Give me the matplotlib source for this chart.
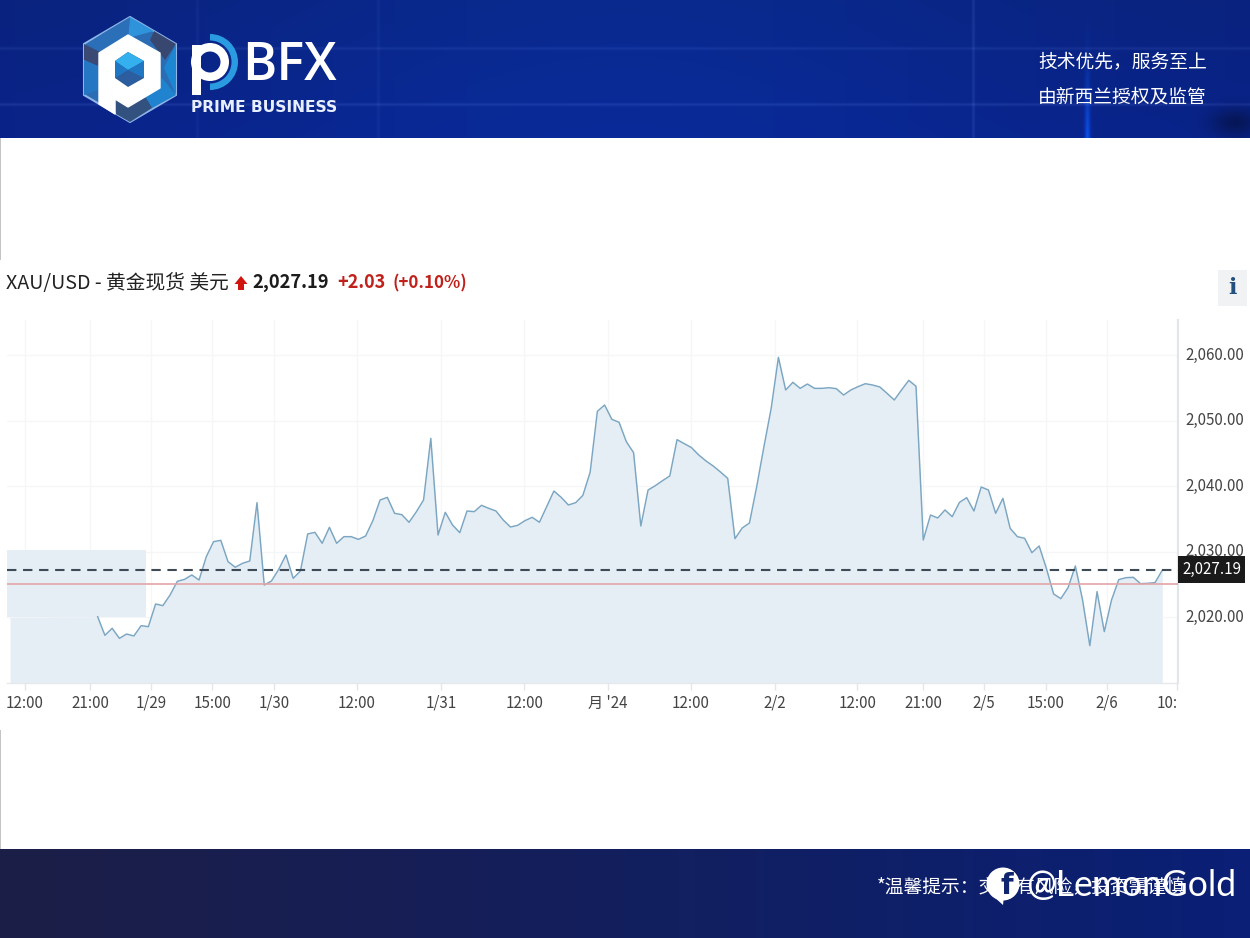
import numpy as np
import matplotlib
matplotlib.use("Agg")
import matplotlib.pyplot as plt
from matplotlib.patches import Polygon, Rectangle, Circle, Wedge
from matplotlib.transforms import ScaledTranslation

plt.rcParams['font.family'] = ['Noto Sans CJK SC', 'DejaVu Sans']

# Hourly XAU/USD spot quotes
prices = [
    2020.1, 2017.27, 2018.34, 2016.81, 2017.47, 2017.17, 2018.74, 2018.59, 2022.05, 2021.79,
    2023.42, 2025.5, 2025.8, 2026.47, 2025.7, 2029.26, 2031.55, 2031.75, 2028.5, 2027.64,
    2028.25, 2028.6, 2037.5, 2024.94, 2025.55, 2027.33, 2029.52, 2025.96, 2027.08, 2032.72,
    2032.97, 2031.3, 2033.73, 2031.3, 2032.31, 2032.31, 2031.9, 2032.41, 2034.75, 2037.9,
    2038.3, 2035.87, 2035.66, 2034.5, 2036.1,
    2037.9, 2047.3, 2032.56, 2036.02, 2034.09, 2032.92, 2036.22, 2036.12, 2037.09, 2036.63,
    2036.22, 2034.85, 2033.78, 2034.04, 2034.75, 2035.26, 2034.5, 2036.88, 2039.27, 2038.31,
    2037.14, 2037.49, 2038.61, 2042.12, 2051.42, 2052.38, 2050.2, 2049.74, 2046.79, 2045.12,
    2033.94, 2039.42, 2040.08, 2040.85, 2041.56, 2047.1, 2046.49, 2045.88, 2044.76, 2043.85,
    2043.08, 2042.17, 2041.2, 2032.0, 2033.63, 2034.39, 2039.93, 2046.03, 2051.87, 2059.65,
    2054.67, 2055.84, 2054.92, 2055.58, 2054.92, 2054.92,
    2055.02, 2054.87, 2053.9, 2054.67, 2055.18, 2055.63, 2055.43, 2055.13, 2054.16, 2053.14,
    2054.67, 2056.14, 2055.23, 2031.8, 2035.61, 2035.16, 2036.38, 2035.36, 2037.54, 2038.25,
    2036.22, 2039.88, 2039.42, 2035.87, 2038.15, 2033.58, 2032.31, 2032.06, 2029.87, 2030.89,
    2027.48, 2023.57, 2022.86, 2024.54, 2027.84, 2022.66, 2015.69, 2023.93, 2017.83, 2022.66,
    2025.76, 2026.06, 2026.11, 2025.15, 2025.2, 2025.3, 2027.19,
]
last_price = 2027.19
prev_close = 2025.16
price_ticks = [2020, 2030, 2040, 2050, 2060]
price_labels = ["2,020.00", "2,030.00", "2,040.00", "2,050.00", "2,060.00"]
time_ticks = [-10.03, -1.06, 7.36, 15.8, 24.35, 35.8, 47.4, 58.9, 70.5, 81.9, 93.5,
              104.9, 113.96, 122.4, 130.9, 139.4, 149.1]
time_labels = ["12:00", "21:00", "1/29", "15:00", "1/30", "12:00", "1/31", "12:00", "月 '24",
               "12:00", "2/2", "12:00", "21:00", "2/5", "15:00", "2/6", "10:"]
# Session that has no line, shown only as a shaded block
blank_start, blank_end, blank_low, blank_high = -12.5, 6.7, 2020, 2030.2
fill_start = -12.1

W, H = 1250, 938
fig = plt.figure(figsize=(W / 100, H / 100), dpi=100, facecolor="white")


def px_axes(l, t, r, b, **kw):
    return fig.add_axes([l / W, 1 - b / H, (r - l) / W, (b - t) / H], **kw)


# Page furniture lives on a full-figure layer addressed in pixels
bg = fig.add_axes([0, 0, 1, 1], zorder=0)
bg.axis("off")

# Header band
yy, xx = np.mgrid[0:138, 0:W]
head = np.zeros((138, W, 3))
glow = np.exp(-((xx - 620) / 420) ** 2)
head[..., 0] = 9 / 255
head[..., 1] = (34 + 8 * glow) / 255
head[..., 2] = (125 + 18 * glow + 10 * yy / 138) / 255
for ly, a in [(48, 0.045), (104, 0.06)]:
    head += a * np.exp(-((yy - ly) / 1.5) ** 2)[..., None]
for lx, a in [(197, 0.03), (378, 0.03), (973, 0.06)]:
    head += a * np.exp(-((xx - lx) / 1.5) ** 2)[..., None]
head[..., 1] += 0.18 * np.exp(-((xx - 1087) / 2.5) ** 2) * (yy / 138) ** 2
head[..., 2] += 0.35 * np.exp(-((xx - 1087) / 3.0) ** 2) * (yy / 138) ** 2
head *= (1 - 0.35 * np.exp(-((xx - 1235) / 24.0) ** 2 - ((yy - 122) / 14.0) ** 2))[..., None]
bg.imshow(np.clip(head, 0, 1), extent=(0, W, 138, 0), aspect="auto", zorder=1)

# Footer band
yy, xx = np.mgrid[0:89, 0:W]
t = xx / W
foot = np.zeros((89, W, 3))
foot[..., 0] = (28 - 18 * t) / 255
foot[..., 1] = (30 + 2 * t) / 255
foot[..., 2] = (70 + 48 * t) / 255
bg.imshow(foot, extent=(0, W, 938, 849), aspect="auto", zorder=1)
bg.set_xlim(0, W)
bg.set_ylim(H, 0)

# Faint page edge beside the white gaps
for y0, y1 in [(138, 260), (730, 849)]:
    bg.add_patch(Rectangle((0, y0), 1, y1 - y0, fc="#c4c4c4", ec="none", zorder=2))

# Hexagonal logo mark
hex_pts = [(130, 17), (176, 44), (176, 95), (130, 122), (84, 95), (84, 44)]
bg.add_patch(Polygon(hex_pts, closed=True, fc="#2b6db5", ec="#8fb4e8", lw=1.5, zorder=3))
facets = [
    ([(130, 17), (154, 31), (128, 38)], "#2f93dc"),
    ([(154, 31), (176, 44), (165, 60), (150, 40)], "#37476f"),
    ([(176, 44), (176, 95), (164, 68)], "#1d86d2"),
    ([(130, 17), (105, 32), (86, 44), (100, 52), (128, 38)], "#2a6fb8"),
    ([(84, 44), (100, 52), (98, 66), (84, 60)], "#3a4a75"),
    ([(84, 60), (98, 66), (98, 90), (84, 95)], "#2577c3"),
    ([(162, 78), (176, 95), (152, 108), (146, 98)], "#2083cf"),
    ([(116, 100), (146, 98), (152, 108), (130, 122), (116, 114)], "#33517f"),
]
for pts, col in facets:
    bg.add_patch(Polygon(pts, closed=True, fc=col, ec="none", zorder=4))
p_mark = [(128, 35), (160, 53), (160, 88), (128, 107), (115, 99), (115, 114), (99, 104), (99, 53)]
bg.add_patch(Polygon(p_mark, closed=True, fc="white", ec="white", lw=1, joinstyle="round", zorder=5))
bg.add_patch(Polygon([(128, 52), (144, 61), (144, 78), (128, 87), (115, 78), (115, 61)],
                     closed=True, fc="#2c5d9e", ec="none", zorder=6))
bg.add_patch(Polygon([(128, 52), (144, 61), (128, 70), (115, 61)], closed=True, fc="#35b0ee", ec="none", zorder=7))
bg.add_patch(Polygon([(128, 70), (144, 61), (144, 78)], closed=True, fc="#1f77c4", ec="none", zorder=7))
bg.add_patch(Polygon([(115, 61), (128, 70), (115, 78)], closed=True, fc="#1f77c4", ec="none", zorder=7))

# Wordmark
bg.add_patch(Wedge((210, 62), 28, -90, 90, width=6.5, fc="#2a9be0", ec="none", zorder=3))
bg.add_patch(Wedge((210, 62), 19, 0, 360, width=8.5, fc="white", ec="none", zorder=4))
bg.add_patch(Rectangle((191.5, 45), 9.5, 50, fc="white", ec="none", zorder=4))
bg.text(242, 66, "BFX", color="white", fontsize=37.5, family="Open Sans", weight="semibold",
        ha="left", va="center", zorder=5)
bg.text(191, 107.5, "PRIME BUSINESS", color="#e8f0ff", fontsize=11.2, family="DejaVu Sans", weight="bold",
        ha="left", va="center", zorder=5)

# Slogans
bg.text(1038, 62, "技术优先，服务至上", color="white", fontsize=13.5, weight="medium", ha="left", va="center", zorder=5)
bg.text(1038, 97, "由新西兰授权及监管", color="white", fontsize=13.5, weight="medium", ha="left", va="center", zorder=5)

# Quote heading
head_y = 283
bg.text(6, head_y, "XAU/USD - 黄金现货 美元", color="#222222", fontsize=14.2, ha="left", va="center", zorder=5)
bg.add_patch(Polygon([(241, 276), (247.5, 284), (244, 284), (244, 290), (238, 290), (238, 284), (234.5, 284)],
                     closed=True, fc="#d0150f", ec="none", zorder=5))
bg.text(252, head_y, "2,027.19", color="#1c1c1c", fontsize=13.2, weight="bold", ha="left", va="center", zorder=5)
bg.text(337, head_y, "+2.03", color="#c0221b", fontsize=13, weight="bold", ha="left", va="center", zorder=5)
bg.text(392, head_y, "(+0.10%)", color="#c0221b", fontsize=12.2, weight="bold", ha="left", va="center", zorder=5)

# Info button
bg.add_patch(Rectangle((1218, 270), 29, 36, fc="#f1f2f3", ec="none", zorder=3))
bg.text(1232.5, 288, "i", color="#23507f", fontsize=16, family="DejaVu Serif", weight="bold",
        ha="center", va="center", zorder=5)

# Price chart
X0, X1, Y0, Y1 = 7, 1178, 320, 683
step, origin = 7.242, 97.67
ax = px_axes(X0, Y0, X1, Y1, zorder=2)
ax.patch.set_alpha(0)
hours = np.arange(len(prices))
fill_col = "#e5edf5"

ax.fill_between(np.r_[fill_start, hours], np.r_[blank_low, prices], 2010, color=fill_col, lw=0, zorder=2)
ax.add_patch(Rectangle((blank_start, blank_low), blank_end - blank_start, blank_high - blank_low,
                       fc=fill_col, ec="none", zorder=2))
ax.plot(hours, prices, color="#7ba6c2", lw=1.05, zorder=4)
ax.axhline(prev_close, color="#e3a4a8", lw=1.2, zorder=5)
ax.axhline(last_price, color="#3e4a56", lw=1.5, dashes=(4.5, 3.2), zorder=6)

ax.set_yticks(price_ticks)
ax.set_yticklabels(price_labels)
ax.set_xticks(time_ticks)
ax.set_xticklabels(time_labels)
ax.set_xlim((X0 - origin) / step, (X1 - origin) / step)
ax.set_ylim(2010, 2065.34)
ax.yaxis.tick_right()
ax.tick_params(axis="y", length=0, pad=5, labelsize=10.9, labelcolor="#444444")
ax.tick_params(axis="x", length=5, width=1, color="#e2e6ea", pad=3.5, labelsize=10.9, labelcolor="#444444")
ax.get_xticklabels()[-1].set_ha("right")
nudge = ScaledTranslation(0, 2 / 72 * 0.72, fig.dpi_scale_trans)
for lab in ax.get_yticklabels():
    lab.set_transform(lab.get_transform() + nudge)
ax.grid(True, color="#f5f6f8", lw=1, zorder=1)
ax.set_axisbelow(True)
for side in ("top", "left"):
    ax.spines[side].set_visible(False)
ax.spines["right"].set_color("#e2e6ea")
ax.spines["right"].set_linewidth(1.5)
ax.spines["bottom"].set_color("#e6e9ec")
ax.spines["bottom"].set_linewidth(1)

# Last-price tag sits over the price scale
top = px_axes(0, 0, W, H, zorder=3)
top.set_xlim(0, W)
top.set_ylim(H, 0)
top.axis("off")
top.patch.set_alpha(0)
top.add_patch(Rectangle((1178, 556), 67, 27, fc="#1a1a1a", ec="none", zorder=3))
top.text(1211.5, 569, "2,027.19", color="white", fontsize=10.9, ha="center", va="center", zorder=4)

# Footer notice and account watermark
top.text(877, 888, "*温馨提示：交易有风险，投资需谨慎", color="white", fontsize=13.5, ha="left", va="center", zorder=3)
top.add_patch(Circle((1003, 884), 16.5, fc="white", ec="none", zorder=4))
top.add_patch(Polygon([(993, 896), (1003, 905), (1004, 896)], closed=True, fc="white", ec="none", zorder=4))
top.text(1007, 886, "f", color="#10256f", fontsize=21, weight="bold", family="DejaVu Sans",
         ha="center", va="center", zorder=5)
top.text(1026, 885.5, "@LemonGold", color="white", fontsize=25.6, family="Lato", weight="normal",
         ha="left", va="center", zorder=5)

fig.savefig("out.png", dpi=100)
